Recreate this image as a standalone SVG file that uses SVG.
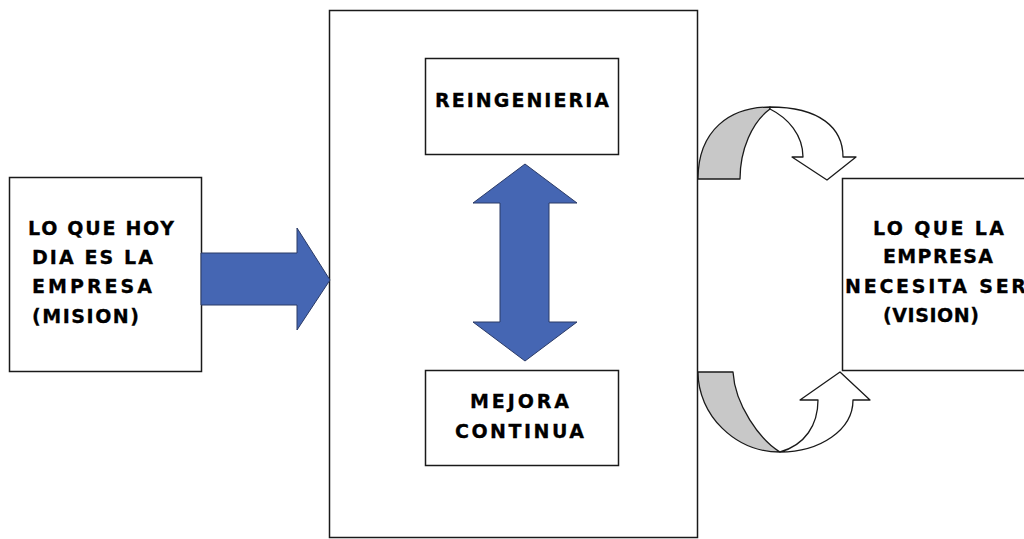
<svg xmlns="http://www.w3.org/2000/svg" width="1024" height="539" viewBox="0 0 1024 539">
<style>
.box{fill:#fff;stroke:#1a1a1a;stroke-width:1.5}
.lbl{font-family:"DejaVu Sans","Liberation Sans",Arial,sans-serif;font-weight:bold;font-size:19px;fill:#000;stroke:#000;stroke-width:0.3}
.blue{fill:#4566B3;stroke:#2a3a66;stroke-width:1}
.cw{fill:#fff;stroke:#1a1a1a;stroke-width:1.3;stroke-linejoin:round}
.cg{fill:#c8c8c8;stroke:#1a1a1a;stroke-width:1.3;stroke-linejoin:round}
</style>
<rect width="1024" height="539" fill="#fff"/>
<g id="center">
<rect class="box" x="329.5" y="10.5" width="368" height="527"/>
</g>
<g id="mision">
<rect class="box" x="9.5" y="177.5" width="192" height="194"/>
<text class="lbl" x="28" y="235" textLength="146" lengthAdjust="spacing">LO QUE HOY</text>
<text class="lbl" x="32" y="264" textLength="121" lengthAdjust="spacing">DIA ES LA</text>
<text class="lbl" x="32" y="293" textLength="120" lengthAdjust="spacing">EMPRESA</text>
<text class="lbl" x="32" y="323" textLength="107" lengthAdjust="spacing">(MISION)</text>
</g>
<g id="vision">
<rect class="box" x="842.5" y="178.5" width="190" height="192"/>
<text class="lbl" x="873" y="235" textLength="131" lengthAdjust="spacing">LO QUE LA</text>
<text class="lbl" x="883" y="263" textLength="110" lengthAdjust="spacing">EMPRESA</text>
<text class="lbl" x="845" y="293" textLength="181" lengthAdjust="spacing">NECESITA SER</text>
<text class="lbl" x="883" y="322" textLength="96" lengthAdjust="spacing">(VISION)</text>
</g>
<g id="reingenieria">
<rect class="box" x="425.5" y="58.5" width="193" height="96"/>
<text class="lbl" x="435" y="107" textLength="174" lengthAdjust="spacing">REINGENIERIA</text>
</g>
<g id="mejora">
<rect class="box" x="425.5" y="370.5" width="193" height="95"/>
<text class="lbl" x="470" y="408" textLength="99" lengthAdjust="spacing">MEJORA</text>
<text class="lbl" x="455" y="438" textLength="129" lengthAdjust="spacing">CONTINUA</text>
</g>
<g id="connectors">
<path class="blue" d="M201,253 L297,253 L297,228 L330,280 L297,330 L297,305 L201,305 Z"/>
<path class="blue" d="M525,164 L577,203 L549,203 L549,322 L577,322 L525,361 L473,322 L500,322 L500,203 L473,203 Z"/>
<path class="cg" d="M698,179 C698,130 730,107 770,107 L770,109 C752,122 740,150 740,179 Z"/>
<path class="cw" d="M770,107 C820,107 843,128 843,157 L856,157 L827,180 L792,157 L803,157 C803,135 788,118 770,109 Z"/>
<path class="cg" d="M698,372 C698,415 735,452 780,452 C760,440 735,405 733,372 Z"/>
<path class="cw" d="M780,452 C820,452 853,430 853,400 L870,400 L840,372 L800,400 L818,400 C818,425 805,445 780,452 Z"/>
</g>
</svg>
